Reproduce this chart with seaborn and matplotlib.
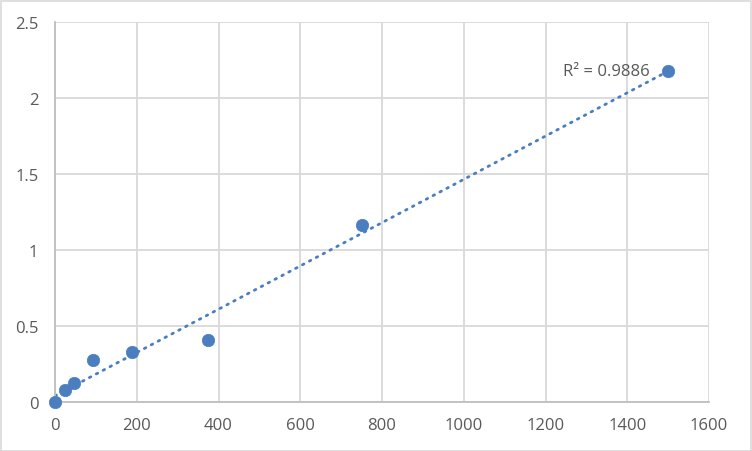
import numpy as np
import pandas as pd
import matplotlib
matplotlib.use("Agg")
import matplotlib.pyplot as plt
import seaborn as sns

# standard curve data
conc = [0, 23.4, 46.9, 93.75, 187.5, 375, 750, 1500]
od = [0, 0.079, 0.125, 0.276, 0.33, 0.41, 1.165, 2.18]
r2_label = "R² = 0.9886"

df = pd.DataFrame({"conc": conc, "od": od})

sns.set_style("white")
plt.rcParams["font.family"] = ["Open Sans", "DejaVu Sans"]

fig = plt.figure(figsize=(7.52, 4.52), dpi=100)
ax = fig.add_axes([55 / 752, 49 / 452, 654 / 752, 380 / 452])

blue = "#4a7ebf"
grid = "#d9d9d9"

sns.regplot(data=df, x="conc", y="od", ax=ax, scatter=False, ci=None,
            line_kws=dict(color=blue, lw=2, ls=(0, (0.6, 2.2)),
                          dash_capstyle="round", zorder=2))
sns.scatterplot(data=df, x="conc", y="od", ax=ax, color=blue, s=80,
                edgecolor=blue, linewidth=0.5, zorder=3, clip_on=False)

ax.set_xlim(0, 1600)
ax.set_ylim(0, 2.5)
ax.set_xticks(np.arange(0, 1601, 200))
ax.set_yticks(np.arange(0, 2.51, 0.5))
ax.set_yticklabels(["0", "0.5", "1", "1.5", "2", "2.5"])
ax.grid(True, color=grid, lw=1.3)
ax.set_axisbelow(True)
for side in ["top", "right"]:
    ax.spines[side].set_visible(False)
for side in ["bottom", "left"]:
    ax.spines[side].set_color("#bfbfbf")
    ax.spines[side].set_linewidth(1.3)
ax.tick_params(axis="both", length=0, labelsize=12, labelcolor="#595959")
ax.tick_params(axis="y", pad=12)
ax.tick_params(axis="x", pad=11)
ax.set_xlabel("")
ax.set_ylabel("")

ax.text(1455, 2.18, r2_label, ha="right", va="center", fontsize=12, color="#595959")

fig.patches.append(plt.Rectangle((0.5 / 752, 0.5 / 452), 750 / 752, 450 / 452,
                                 transform=fig.transFigure, fill=False,
                                 edgecolor="#d9d9d9", lw=1.2))

fig.savefig("out.png", dpi=100)
